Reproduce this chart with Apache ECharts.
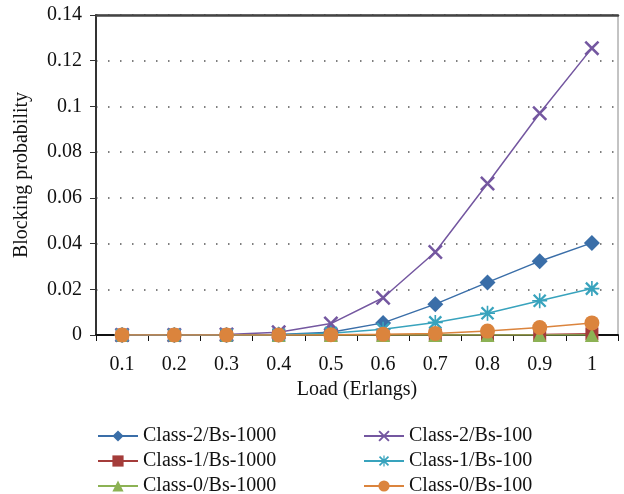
<!DOCTYPE html>
<html><head><meta charset="utf-8">
<script src="https://cdn.jsdelivr.net/npm/echarts@6/dist/echarts.min.js"></script>
<style>html,body{margin:0;padding:0;background:#fff}#c{width:624px;height:494px}</style>
</head><body><div id="c"></div>
<script>
const loads = ['0.1','0.2','0.3','0.4','0.5','0.6','0.7','0.8','0.9','1'];
const class2Bs1000 = [0, 0, 0, 0.0002, 0.0012, 0.0053, 0.0135, 0.0230, 0.0323, 0.0403];
const class1Bs1000 = [0, 0, 0, 0, 0, 0, 0, 0.0001, 0.0002, 0.0005];
const class0Bs1000 = [0, 0, 0, 0, 0, 0, 0, 0, 0, 0];
const class2Bs100 = [0, 0, 0.0002, 0.0012, 0.0050, 0.0163, 0.0363, 0.0663, 0.0970, 0.1255];
const class1Bs100 = [0, 0, 0, 0.0001, 0.0008, 0.0025, 0.0055, 0.0095, 0.0150, 0.0203];
const class0Bs100 = [0, 0, 0, 0, 0.0001, 0.0003, 0.0007, 0.0017, 0.0033, 0.0053];
const seriesNames = ['Class-2/Bs-1000','Class-1/Bs-1000','Class-0/Bs-1000','Class-2/Bs-100','Class-1/Bs-100','Class-0/Bs-100'];
const yTicks = [0, 0.02, 0.04, 0.06, 0.08, 0.1, 0.12, 0.14];

const FONT = 'Liberation Serif';
const FS = 20;
const xSym = 'path://M0,1.2L1.2,0L10,8.8L8.8,10ZM8.8,0L10,1.2L1.2,10L0,8.8Z';
const starSym = 'path://M0,1.2L1.2,0L10,8.8L8.8,10ZM8.8,0L10,1.2L1.2,10L0,8.8ZM4.4,-0.5L5.6,-0.5L5.6,10.5L4.4,10.5ZM-0.5,4.4L10.5,4.4L10.5,5.6L-0.5,5.6Z';

function mk(name, data, color, symbol, size) {
  return {
    name, type: 'line', data, symbol, symbolSize: size,
    showSymbol: true,
    lineStyle: { color, width: 1.5 },
    itemStyle: { color },
    emphasis: { disabled: true },
    animation: false
  };
}
const legendText = { fontFamily: FONT, fontSize: FS, color: '#111', lineHeight: 20 };

const chart = echarts.init(document.getElementById('c'), null, { renderer: 'canvas' });
chart.setOption({
  animation: false,
  textStyle: { fontFamily: FONT },
  grid: { left: 96, right: 6, top: 15, bottom: 159, show: true, borderColor: '#888', borderWidth: 1,
    containLabel: false, outerBoundsMode: 'none' },
  legend: [
    { data: seriesNames.slice(0, 3), orient: 'vertical', left: 92, top: 421, height: 80, itemWidth: 40, itemHeight: 14, itemGap: 5,
      textStyle: legendText },
    { data: seriesNames.slice(3), orient: 'vertical', left: 358, top: 421, height: 80, itemWidth: 40, itemHeight: 14, itemGap: 5,
      textStyle: legendText }
  ],
  xAxis: [{
    type: 'category', data: loads, boundaryGap: true,
    name: 'Load (Erlangs)', nameLocation: 'middle', nameGap: 41,
    nameTextStyle: { fontFamily: FONT, fontSize: FS, color: '#111' },
    axisLine: { lineStyle: { color: '#111', width: 2 } },
    axisTick: { show: true, alignWithLabel: false, length: 6, lineStyle: { color: '#111', width: 1 } },
    axisLabel: { fontFamily: FONT, fontSize: FS, color: '#111', margin: 20 },
    splitLine: { show: false }
  }, {
    type: 'category', data: loads, position: 'top',
    axisLine: { lineStyle: { color: '#444', width: 2.5 } },
    axisTick: { show: false }, axisLabel: { show: false }, splitLine: { show: false }
  }],
  yAxis: {
    type: 'value', min: 0, max: 0.14, interval: 0.02,
    name: 'Blocking probability', nameLocation: 'middle', nameGap: 64, nameRotate: 90,
    nameTextStyle: { fontFamily: FONT, fontSize: FS, color: '#111' },
    axisLine: { show: true, lineStyle: { color: '#333', width: 2 } },
    axisTick: { show: true, length: 6, lineStyle: { color: '#333' } },
    axisLabel: { fontFamily: FONT, fontSize: FS, color: '#111', margin: 14,
      formatter: v => { const t = yTicks.find(k => Math.abs(k - v) < 1e-9); return String(t !== undefined ? t : v); } },
    splitLine: { show: true, lineStyle: { color: '#555', width: 1.5, type: [1.5, 10.5] } }
  },
  series: [
    mk(seriesNames[0], class2Bs1000, '#3A6EA8', 'diamond', 16),
    mk(seriesNames[1], class1Bs1000, '#A43C3A', 'rect', 13),
    mk(seriesNames[2], class0Bs1000, '#8CB254', 'triangle', 14),
    mk(seriesNames[3], class2Bs100, '#7457A0', xSym, 15),
    mk(seriesNames[4], class1Bs100, '#38A3BD', starSym, 15),
    mk(seriesNames[5], class0Bs100, '#DB843D', 'circle', 15)
  ]
});
</script></body></html>
